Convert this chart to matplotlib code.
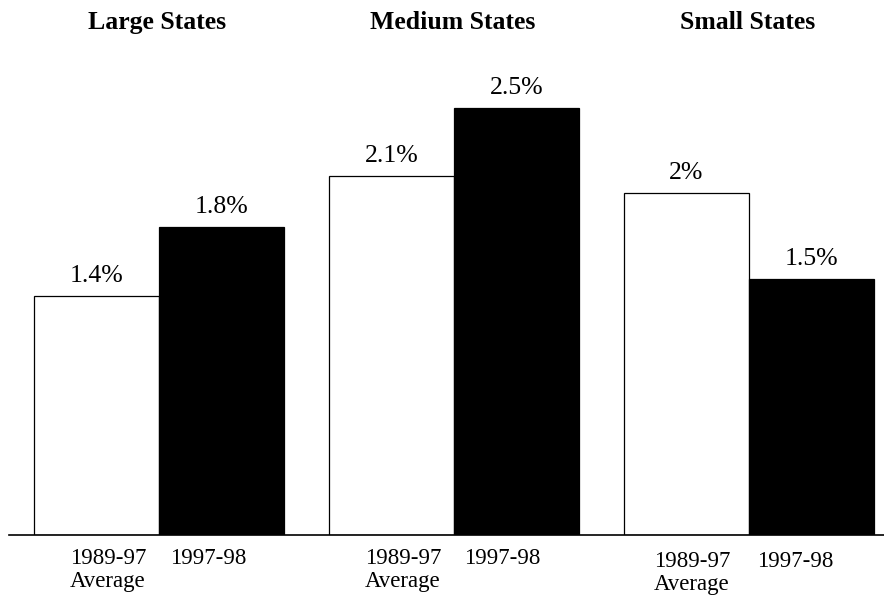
import matplotlib
matplotlib.use("Agg")
import matplotlib.pyplot as plt
from matplotlib.transforms import blended_transform_factory

# Data
groups = ["Large States", "Medium States", "Small States"]
avg_8997 = [1.4, 2.1, 2.0]
rate_9798 = [1.8, 2.5, 1.5]
avg_labels = ["1.4%", "2.1%", "2%"]
rate_labels = ["1.8%", "2.5%", "1.5%"]
period_labels = ["1989-97\nAverage", "1997-98"]

plt.rcParams["font.family"] = ["Liberation Serif", "DejaVu Serif"]

W, H = 884, 596
fig = plt.figure(figsize=(W / 100, H / 100), dpi=100)

# axes spans from the left end of the baseline to the right edge
left_px, right_px = 9, 884
base_px, top_px = 535, 60
ax = fig.add_axes([left_px / W, (H - base_px) / H,
                   (right_px - left_px) / W, (base_px - top_px) / H])

unit = 295.0  # pixels per group
ax.set_xlim(-(159 - left_px) / unit, 2 + (right_px - 749) / unit)
ax.set_ylim(0, (base_px - top_px) / 171.0)

bw = 0.424
x = list(range(len(groups)))
xa = [g - bw / 2 for g in x]
xb = [g + bw / 2 for g in x]

ax.bar(xa, avg_8997, width=bw, color="white", edgecolor="black", linewidth=0.9)
ax.bar(xb, rate_9798, width=bw, color="black", edgecolor="black", linewidth=0.9)

# value labels above bars
for xi, v, t in zip(xa, avg_8997, avg_labels):
    ax.annotate(t, xy=(xi, v), xytext=(0, 10), textcoords="offset points",
                ha="center", va="baseline", fontsize=18.5)
for xi, v, t in zip(xb, rate_9798, rate_labels):
    ax.annotate(t, xy=(xi, v), xytext=(0, 10), textcoords="offset points",
                ha="center", va="baseline", fontsize=18.5)

# group titles
tr = blended_transform_factory(ax.transData, fig.transFigure)
for g, name in zip(x, groups):
    ax.text(g - 0.005, 1 - 29 / H, name, transform=tr, ha="center",
            va="baseline", fontsize=18.5, fontweight="bold")

# period labels under each pair of bars
px_to_pt = 72 / 100
drops = [0, 0, 3]
off_a = [-51, -51, -57]
off_b = [49, 48, 46]
for g, d, oa, ob in zip(x, drops, off_a, off_b):
    first, second = period_labels[0].split("\n")
    ax.annotate(first, xy=(g, 0), xytext=(oa * px_to_pt, -(29 + d) * px_to_pt),
                textcoords="offset points", ha="center", va="baseline",
                fontsize=16.5, annotation_clip=False)
    ax.annotate(second, xy=(g, 0), xytext=(oa * px_to_pt, -(52 + d) * px_to_pt),
                textcoords="offset points", ha="center", va="baseline",
                fontsize=16.5, annotation_clip=False)
    ax.annotate(period_labels[1], xy=(g, 0),
                xytext=(ob * px_to_pt, -(29 + d) * px_to_pt),
                textcoords="offset points", ha="center", va="baseline",
                fontsize=16.5, annotation_clip=False)

for s in ["top", "right", "left"]:
    ax.spines[s].set_visible(False)
ax.spines["bottom"].set_linewidth(1.2)
ax.set_xticks([])
ax.set_yticks([])
ax.patch.set_alpha(0)

fig.savefig("out.png", dpi=100)
